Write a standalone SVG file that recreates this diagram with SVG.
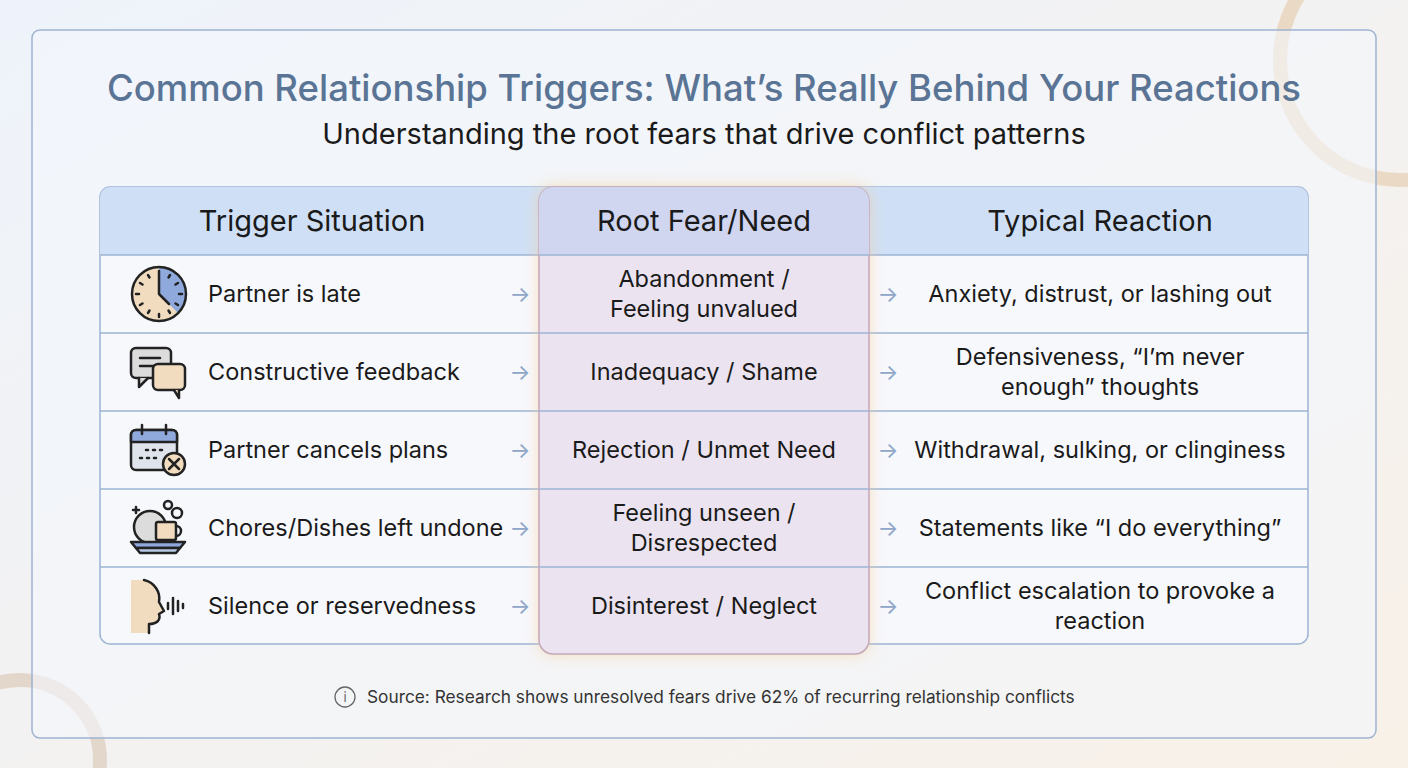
<svg xmlns="http://www.w3.org/2000/svg" width="1408" height="768" viewBox="0 0 1408 768">
<defs>
<linearGradient id="bg" x1="0" y1="0" x2="1" y2="1"><stop offset="0" stop-color="#eef3fb"/><stop offset="1" stop-color="#f8f1e8"/></linearGradient>
<filter id="glow" x="-20%" y="-20%" width="140%" height="140%"><feGaussianBlur stdDeviation="8"/></filter>
<style>
text{font-family:Inter,"Noto Sans","Liberation Sans",sans-serif;fill:#1a1a1a}
.h{font-size:29px;text-anchor:middle}
.c{font-size:23.5px}
.m{font-size:23.5px;text-anchor:middle}
.ar{font-size:22px;fill:#8ea6c8;text-anchor:middle}
.ln{stroke:#9db4d3;stroke-width:1.5}
.ic{stroke:#222;stroke-width:2.5;stroke-linecap:round;stroke-linejoin:round}
</style>
</defs>
<rect width="1408" height="768" fill="url(#bg)"/>
<circle cx="1400" cy="60" r="120" fill="none" stroke="#ead9c4" stroke-width="14"/>
<circle cx="20" cy="760" r="80" fill="none" stroke="#e3d7cc" stroke-width="14"/>
<rect x="32" y="30" width="1344" height="708" rx="8" fill="#f3f6fb" fill-opacity="0.6" stroke="#9fb3d1" stroke-width="1.5"/>
<text x="704" y="101" text-anchor="middle" style="font-size:36.5px;font-weight:500;fill:#5a7495">Common Relationship Triggers: What’s Really Behind Your Reactions</text>
<text x="704" y="144" text-anchor="middle" style="font-size:29px">Understanding the root fears that drive conflict patterns</text>
<g id="table">
<rect x="100" y="187" width="1208" height="457" rx="10" fill="#f7f8fc" stroke="#9db4d3" stroke-width="1.5"/>
<path d="M100 255 V197 a10 10 0 0 1 10 -10 H1298 a10 10 0 0 1 10 10 V255 Z" fill="#cfe0f6"/>
<line class="ln" x1="100" y1="255" x2="1308" y2="255"/>
<line class="ln" x1="100" y1="333" x2="1308" y2="333"/>
<line class="ln" x1="100" y1="411" x2="1308" y2="411"/>
<line class="ln" x1="100" y1="489" x2="1308" y2="489"/>
<line class="ln" x1="100" y1="567" x2="1308" y2="567"/>
</g>
<g id="middle">
<rect x="539" y="187" width="330" height="467" rx="14" fill="#f5c98f" opacity="0.6" filter="url(#glow)"/>
<rect x="539" y="187" width="330" height="467" rx="14" fill="#ebe3ef" stroke="#c4a8b8" stroke-width="1.5"/>
<path d="M539 255 V201 a14 14 0 0 1 14 -14 H855 a14 14 0 0 1 14 14 V255 Z" fill="#d0d5f0"/>
<line class="ln" x1="539" y1="255" x2="869" y2="255"/>
<line class="ln" x1="539" y1="333" x2="869" y2="333"/>
<line class="ln" x1="539" y1="411" x2="869" y2="411"/>
<line class="ln" x1="539" y1="489" x2="869" y2="489"/>
<line class="ln" x1="539" y1="567" x2="869" y2="567"/>
</g>
<g id="headers">
<text class="h" x="312" y="231">Trigger Situation</text>
<text class="h" x="704" y="231">Root Fear/Need</text>
<text class="h" x="1100" y="231">Typical Reaction</text>
</g>
<g id="icons">
<g id="icon1"><circle cx="159" cy="294" r="27" fill="#f1dcc0"/><path d="M159 267 A27 27 0 0 1 178 313 L159 294 Z" fill="#8fa9dc"/><circle cx="159" cy="294" r="27" fill="none" class="ic"/><path class="ic" stroke-width="1.8" d="M159 271 v3 M159 314 v3 M136 294 h3 M179 294 h3 M170 275 l-1.5 2.5 M178 283 l-2.5 1.5 M178 305 l-2.5 -1.5 M170 313 l-1.5 -2.5 M148 275 l1.5 2.5 M140 283 l2.5 1.5 M140 305 l2.5 -1.5 M148 313 l1.5 -2.5" fill="none"/><path class="ic" d="M159 294 V275 M159 294 L169 304" fill="none"/></g>
<g id="icon2"><rect x="131" y="348" width="40" height="30" rx="5" fill="#dcdcdc" class="ic"/><path class="ic" d="M139 378 l0 9 l9 -9" fill="#dcdcdc"/><path class="ic" d="M140 358 h20 M140 366 h14" fill="none"/><rect x="153" y="364" width="32" height="26" rx="5" fill="#f1dcc0" class="ic"/><path class="ic" d="M174 390 l5 8 v-8" fill="#f1dcc0"/></g>
<g id="icon3"><rect x="131" y="430" width="46" height="40" rx="5" fill="#dfe3ec" class="ic"/><path d="M131 442 v-7 a5 5 0 0 1 5 -5 h36 a5 5 0 0 1 5 5 v7 Z" fill="#8fa9dc" class="ic"/><path class="ic" d="M142 425 v9 M166 425 v9" fill="none"/><path class="ic" d="M146 450 h2 M153 450 h2 M160 450 h2 M140 458 h2 M147 458 h2 M154 458 h2" fill="none"/><circle cx="174" cy="464" r="11" fill="#f1dcc0" class="ic"/><path class="ic" d="M169 459 l10 10 M179 459 l-10 10" fill="none"/></g>
<g id="icon4"><circle cx="150" cy="527" r="16" fill="#dcdcdc" class="ic"/><rect x="156" y="522" width="20" height="18" rx="2" fill="#f1dcc0" class="ic"/><path class="ic" d="M176 526 a5 5 0 0 1 0 10" fill="none"/><path class="ic" d="M131 542 h54 l-5 6 h-44 Z" fill="#8fa9dc"/><path class="ic" d="M136 548 h44 l-4 5 h-36 Z" fill="#b9c8e6"/><circle cx="168" cy="505" r="4" fill="none" class="ic" stroke-width="2"/><circle cx="177" cy="513" r="5" fill="none" class="ic" stroke-width="2"/><path class="ic" d="M133 510 h6 M136 507 v6" stroke-width="1.5"/></g>
<g id="icon5"><path d="M131 580 h13 c10 2 17 12 15 22 l5 9 l-5 3 c2 6 -2 10 -10 10 v9 h-18 Z" fill="#f1dcc0"/><path class="ic" d="M144 580 c10 2 17 12 15 22 l5 9 l-5 3 c2 6 -2 10 -10 10 v9" fill="none"/><path class="ic" d="M168 603 v6 M173 598 v16 M178 601 v10 M183 604 v4" fill="none" stroke-width="2"/></g>
</g>
<g id="rows">
<text class="c" x="208" y="302">Partner is late</text>
<text class="c" x="208" y="380">Constructive feedback</text>
<text class="c" x="208" y="458">Partner cancels plans</text>
<text class="c" x="208" y="536">Chores/Dishes left undone</text>
<text class="c" x="208" y="614">Silence or reservedness</text>
<text class="m" x="704" y="287">Abandonment /</text><text class="m" x="704" y="317">Feeling unvalued</text>
<text class="m" x="704" y="380">Inadequacy / Shame</text>
<text class="m" x="704" y="458">Rejection / Unmet Need</text>
<text class="m" x="704" y="521">Feeling unseen /</text><text class="m" x="704" y="551">Disrespected</text>
<text class="m" x="704" y="614">Disinterest / Neglect</text>
<text class="m" x="1100" y="302">Anxiety, distrust, or lashing out</text>
<text class="m" x="1100" y="365">Defensiveness, “I’m never</text><text class="m" x="1100" y="395">enough” thoughts</text>
<text class="m" x="1100" y="458">Withdrawal, sulking, or clinginess</text>
<text class="m" x="1100" y="536">Statements like “I do everything”</text>
<text class="m" x="1100" y="599">Conflict escalation to provoke a</text><text class="m" x="1100" y="629">reaction</text>
</g>
<g id="connectors">
<text class="ar" x="520" y="302">→</text><text class="ar" x="888" y="302">→</text>
<text class="ar" x="520" y="380">→</text><text class="ar" x="888" y="380">→</text>
<text class="ar" x="520" y="458">→</text><text class="ar" x="888" y="458">→</text>
<text class="ar" x="520" y="536">→</text><text class="ar" x="888" y="536">→</text>
<text class="ar" x="520" y="614">→</text><text class="ar" x="888" y="614">→</text>
</g>
<g id="footer">
<circle cx="345" cy="697" r="10" fill="none" stroke="#666" stroke-width="1.3"/>
<text x="345" y="702" text-anchor="middle" style="font-size:13px;fill:#666">i</text>
<text x="367" y="703" style="font-size:17.3px;fill:#333">Source: Research shows unresolved fears drive 62% of recurring relationship conflicts</text>
</g>
</svg>
